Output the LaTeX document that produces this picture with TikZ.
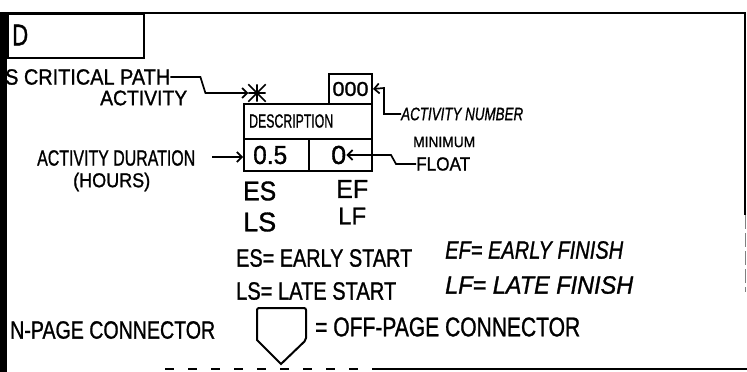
\documentclass[tikz,border=0pt]{standalone}
\usepackage{fontspec}
\setmainfont{Liberation Sans}[BoldFont=Liberation Sans, BoldFeatures={FakeBold=1.2},
  BoldItalicFont=Liberation Sans Italic, BoldItalicFeatures={FakeBold=1.2}]
\usepackage{graphicx}
\usetikzlibrary{arrows.meta}
\newcommand\fw[2]{\resizebox{#1pt}{\height}{#2}}
\newcommand\fs[1]{\fontsize{#1}{#1}\selectfont\bfseries}
\begin{document}
\begin{tikzpicture}[x=1pt,y=-1pt,
  hw/.style={inner sep=0pt,anchor=west},
  boxln/.style={line width=2pt},
  cell/.style={draw,line width=2pt,inner sep=0pt,anchor=north west},
  conn/.style={line width=1.7pt,-{Straight Barb[length=5pt,width=10pt,line width=1.7pt]}},
  frame/.style={line width=2pt}
]
\useasboundingbox (0,0) rectangle (747,372);
% frame
\fill (0,12) rectangle (7,372);
\draw[frame] (7,13) -- (746,13);
\draw[line width=1.5pt] (745,13) -- (745,215);
\draw[line width=1.0pt,gray,dash pattern=on 14pt off 4pt] (745,215) -- (745,292);
\node[cell,minimum width=136pt,minimum height=44pt] (dbox) at (7,13) {};
\node[hw,font=\fs{30}] (dlab) at (12,35) {\fw{16}{D}};
% critical path
\node[hw,font=\fs{22}] (crit) at (5,77) {\fw{165}{S CRITICAL PATH}};
\node[hw,font=\fs{21}] (critb) at (100,98) {\fw{87}{ACTIVITY}};
\node[minimum size=17pt,inner sep=0pt] (ast) at (257,93) {};
\draw[line width=1.6pt] (ast.north) -- (ast.south) (ast.west) -- (ast.east)
  (ast.north west) -- (ast.south east) (ast.north east) -- (ast.south west);
\draw[conn] (crit.east) -- ++(30,0) -- ++(5,16) -- (ast.west);
% activity box
\node[cell,minimum width=43pt,minimum height=30pt,font=\fs{20}] (num) at (328,73) {\fw{36}{000}};
\node[cell,minimum width=128pt,minimum height=35pt] (desc) at (243,103) {};
\node[cell,minimum width=65pt,minimum height=32pt] (cl) at (243,138) {};
\node[cell,minimum width=63pt,minimum height=32pt] (cr) at (308,138) {};
\node[hw,font=\fs{19}] (desclab) at (249,121) {\fw{84}{DESCRIPTION}};
\node[hw,font=\fs{26}] (half) at (253,155) {\fw{34}{0.5}};
\node[hw,font=\fs{26}] (zero) at (331,155) {\fw{15}{0}};
% labels right
\node[hw,font=\fs{18}\itshape] (actnum) at (401,114) {\fw{122}{ACTIVITY NUMBER}};
\draw[conn] (actnum.west) -- ++(-17,0) -- ++(0,-26) -- (num.east);
\node[hw,font=\fs{15}] (minim) at (413,142) {\fw{62}{MINIMUM}};
\node[hw,font=\fs{19}] (float) at (416,164) {\fw{54}{FLOAT}};
\draw[conn] (float.west) -- ++(-20,0) -- ++(-5,-9) -- (zero.east);
% duration
\node[hw,font=\fs{22}] (dur) at (37,158) {\fw{158}{ACTIVITY DURATION}};
\node[hw,font=\fs{20}] (hours) at (73,182) {\fw{77}{(HOURS)}};
\coordinate (durS) at (212,157);
\draw[conn] (durS) -- (cl.west |- durS);
% ES EF LS LF
\node[hw,font=\fs{27}] (es) at (243,191) {\fw{33}{ES}};
\node[hw,font=\fs{26}] (ef) at (336,189) {\fw{32}{EF}};
\node[hw,font=\fs{27}] (ls) at (243,222) {\fw{33}{LS}};
\node[hw,font=\fs{24}] (lf) at (338,216) {\fw{28}{LF}};
% definitions
\node[hw,font=\fs{25}] (esdef) at (236,258) {\fw{176}{ES= EARLY START}};
\node[hw,font=\fs{25}\itshape] (efdef) at (445,250) {\fw{178}{EF= EARLY FINISH}};
\node[hw,font=\fs{25}] (lsdef) at (236,291) {\fw{160}{LS= LATE START}};
\node[hw,font=\fs{25}\itshape] (lfdef) at (445,285) {\fw{188}{LF= LATE FINISH}};
% connectors legend
\node[hw,font=\fs{25}] (onp) at (10,330) {\fw{205}{N-PAGE CONNECTOR}};
\coordinate (offc) at (281,336);
\draw[boxln,rounded corners=2pt] (257,340) -- (257,308) -- (306,308) -- (306,340) [sharp corners] -- (281,364) -- cycle;
\node[hw,font=\fs{27}] (offp) at (315,327) {\fw{265}{= OFF-PAGE CONNECTOR}};
% bottom line
\draw[line width=1.8pt,dash pattern=on 9pt off 14pt] (165,369) -- (380,369);
\draw[line width=1.8pt] (380,369) -- (747,369);
\end{tikzpicture}
\end{document}
